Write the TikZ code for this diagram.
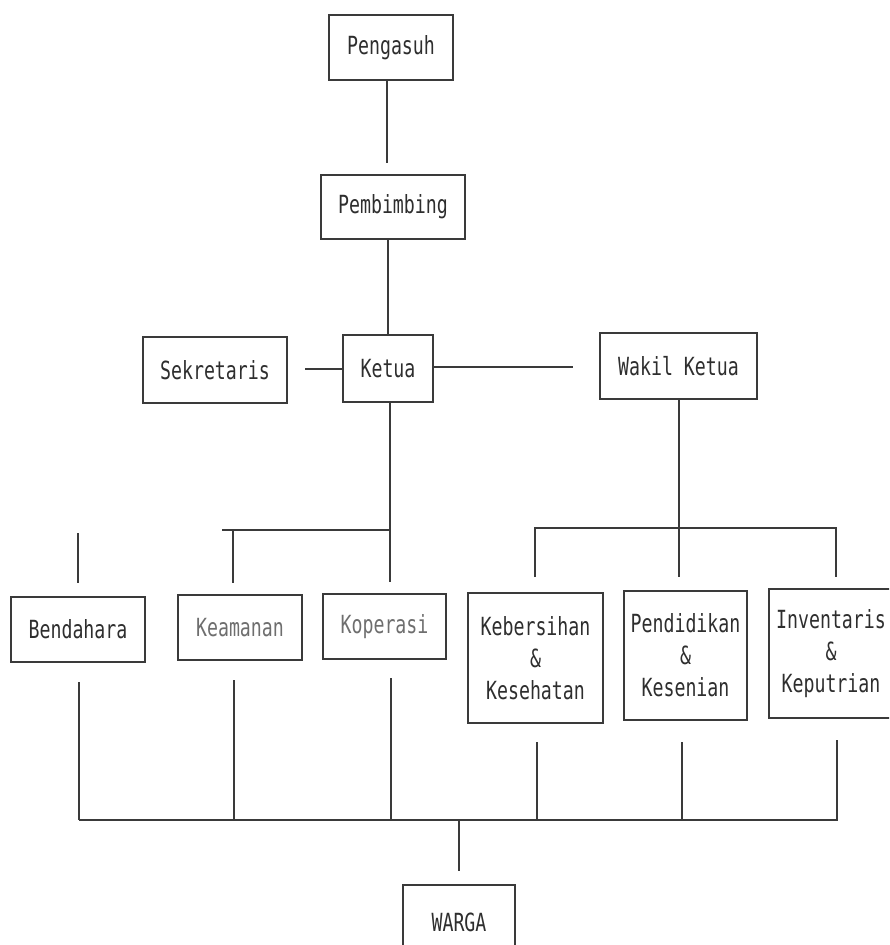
\documentclass[tikz,border=0pt]{standalone}
\usepackage{fontspec}
\newfontfamily\dotmono[FakeStretch=0.73]{DejaVu Sans Mono}
\definecolor{linec}{HTML}{3A3A3A}
\definecolor{txtc}{HTML}{2E2E2E}
\definecolor{txtl}{HTML}{6E6E6E}
\tikzset{
  orgbox/.style={draw=linec, line width=1.3pt, inner sep=0pt, align=center,
    text=txtc, font=\dotmono\fontsize{25}{32}\selectfont},
  lightbox/.style={orgbox, text=txtl},
  conn/.style={draw=linec, line width=1.3pt}
}
\begin{document}
\begin{tikzpicture}[x=1pt,y=-1pt]
\useasboundingbox (0,0) rectangle (889,945);
\begin{scope}
\clip (0,0) rectangle (889,945);

% boxes
\node[orgbox, minimum width=124pt, minimum height=65pt] (peng) at (391,47.5) {Pengasuh};
\node[orgbox, minimum width=144pt, minimum height=64pt] (pemb) at (393,207) {Pembimbing};
\node[orgbox, minimum width=144pt, minimum height=66pt] (sekr) at (215,370) {Sekretaris};
\node[orgbox, minimum width=90pt, minimum height=67pt] (ketua) at (388,368.5) {Ketua};
\node[orgbox, minimum width=157pt, minimum height=66pt] (wakil) at (678.5,366) {Wakil Ketua};
\node[orgbox, minimum width=134pt, minimum height=65pt] (bend) at (78,629.5) {Bendahara};
\node[lightbox, minimum width=124pt, minimum height=65pt] (keam) at (240,627.5) {Keamanan};
\node[lightbox, minimum width=123pt, minimum height=65pt] (kope) at (384.5,626.5) {Koperasi};
\node[orgbox, minimum width=135pt, minimum height=130pt] (kebe) at (535.5,658) {Kebersihan\\\&\\Kesehatan};
\node[orgbox, minimum width=123pt, minimum height=129pt] (pend) at (685.5,655.5) {Pendidikan\\\&\\Kesenian};
\node[orgbox, minimum width=124pt, minimum height=129pt] (inve) at (831,653.5) {Inventaris\\\&\\Keputrian};
\node[orgbox, minimum width=112pt, minimum height=75pt] (warga) at (459,922.5) {WARGA};

% free ends of connectors (upper part)
\coordinate (pengend) at (387,163);
\coordinate (pembx) at (388,0);
\coordinate (sekrend) at (305,369);
\coordinate (ketend) at (573,367);
\coordinate (ketdown) at (390,582);
\coordinate (lbusL) at (222,530);
\coordinate (lbusR) at (390,530);
\coordinate (keamtop) at (233,583);
\coordinate (bendtop1) at (78,533);
\coordinate (bendtop2) at (78,583);
\coordinate (wakdown) at (679,577);
\coordinate (rbusL) at (535,528);
\coordinate (rbusR) at (836,528);
\coordinate (kebetop) at (535,577);
\coordinate (invetop) at (836,577);
% free ends (lower part)
\coordinate (d1) at (79,682);
\coordinate (d2) at (234,680);
\coordinate (d3) at (391,678);
\coordinate (d4) at (537,742);
\coordinate (d5) at (682,742);
\coordinate (d6) at (837,740);
\coordinate (bbusL) at (79,820);
\coordinate (bbusR) at (838,820);
\coordinate (wargatop) at (459,871);

% upper connectors
\draw[conn] (peng.south -| pengend) -- (pengend);
\draw[conn] (pemb.south -| pembx) -- (ketua.north -| pembx);
\draw[conn] (sekrend) -- (ketua.west |- sekrend);
\draw[conn] (ketua.east |- ketend) -- (ketend);
\draw[conn] (ketua.south -| ketdown) -- (ketdown);
\draw[conn] (lbusL) -- (lbusR);
\draw[conn] (keamtop |- lbusL) -- (keamtop);
\draw[conn] (bendtop1) -- (bendtop2);
\draw[conn] (wakil.south -| wakdown) -- (wakdown);
\draw[conn] (kebetop) -- (rbusL) -- (rbusR) -- (invetop);

% lower connectors
\draw[conn] (d1) -- (d1 |- bbusL);
\draw[conn] (d2) -- (d2 |- bbusL);
\draw[conn] (d3) -- (d3 |- bbusL);
\draw[conn] (d4) -- (d4 |- bbusL);
\draw[conn] (d5) -- (d5 |- bbusL);
\draw[conn] (d6) -- (d6 |- bbusL);
\draw[conn] (bbusL) -- (bbusR);
\draw[conn] (wargatop |- bbusL) -- (warga.north |- wargatop);
\end{scope}
\end{tikzpicture}
\end{document}
